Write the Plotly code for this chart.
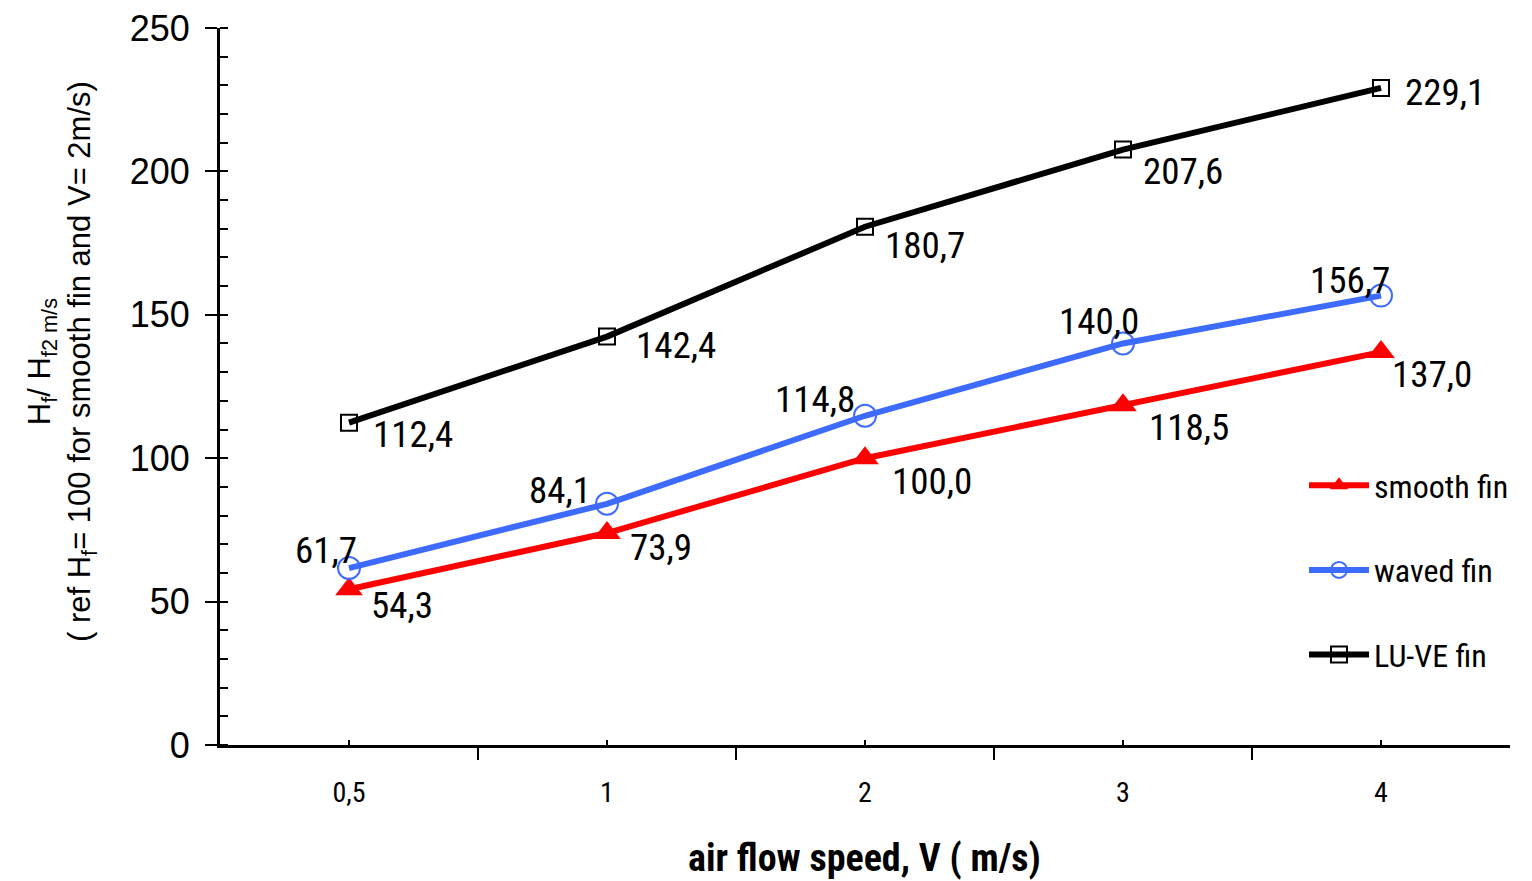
import plotly.graph_objects as go

categories = ["0,5", "1", "2", "3", "4"]
smooth_fin = [54.3, 73.9, 100.0, 118.5, 137.0]
waved_fin = [61.7, 84.1, 114.8, 140.0, 156.7]
luve_fin = [112.4, 142.4, 180.7, 207.6, 229.1]

NARROW = "Liberation Sans Narrow, Arial Narrow, Roboto Condensed, Liberation Sans, sans-serif"
REGULAR = "Liberation Sans, Arial, sans-serif"
xpos = list(range(len(categories)))

fig = go.Figure()
series = [
    ("smooth fin", smooth_fin, "#FF0000", dict(symbol="triangle-up", size=24, color="#FF0000")),
    ("waved fin", waved_fin, "#3D6BFF", dict(symbol="circle-open", size=22, color="#3D6BFF", line=dict(width=2))),
    ("LU-VE fin", luve_fin, "#000000", dict(symbol="square-open", size=16, color="#000000", line=dict(width=2))),
]
for name, vals, col, mk in series:
    fig.add_trace(go.Scatter(x=xpos, y=vals, name=name, mode="lines+markers",
                             line=dict(color=col, width=6), marker=mk,
                             legendgroup=name, cliponaxis=False))

# label offsets (style): (anchor, xshift, yshift)
offsets = {
    "smooth fin": [("left", 20, -16), ("left", 21, -14), ("left", 25, -23), ("left", 24, -22), ("left", 9, -22)],
    "waved fin": [("right", 10, 18), ("right", -14, 13), ("right", -8, 16), ("right", 18, 22), ("right", 11, 15)],
    "LU-VE fin": [("left", 22, -12), ("left", 27, -9), ("left", 18, -19), ("left", 18, -22), ("left", 22, -5)],
}
for name, vals, col, mk in series:
    for j, v in enumerate(vals):
        anc, dx, dy = offsets[name][j]
        fig.add_annotation(x=xpos[j], y=v, text=f"{v:.1f}".replace(".", ","),
                           showarrow=False, xanchor=anc, yanchor="middle",
                           xshift=dx, yshift=dy, font=dict(family=NARROW, size=37, color="black"))

fig.add_annotation(xref="paper", yref="paper", x=(62 - 220) / 1290, y=(745 - 362) / 717,
                   text="H<sub>f</sub>/ H<sub>f2 m/s</sub><br>( ref H<sub>f</sub>= 100 for smooth fin and V= 2m/s)",
                   textangle=-90, showarrow=False, xanchor="center", yanchor="middle",
                   font=dict(family=REGULAR, size=31, color="black"))
fig.add_annotation(xref="paper", yref="paper", x=(864 - 220) / 1290, y=(745 - 858) / 717,
                   text="<b>air flow speed, V ( m/s)</b>", showarrow=False,
                   xanchor="center", yanchor="middle",
                   font=dict(family=NARROW, size=38, color="black"))

fig.update_layout(
    width=1532, height=881,
    margin=dict(l=212, r=30, t=20, b=144),
    paper_bgcolor="white", plot_bgcolor="white",
    font=dict(family=NARROW, color="black"),
    showlegend=True,
    legend=dict(x=(1304 - 220) / 1290, y=(745 - 458) / 717, xanchor="left", yanchor="top",
                bgcolor="rgba(0,0,0,0)", font=dict(family=NARROW, size=32, color="black"),
                traceorder="grouped", tracegroupgap=40, itemwidth=60),
    xaxis=dict(range=[-0.5, 4.5], tickmode="array", tickvals=xpos, ticktext=categories,
               automargin=False,
               showgrid=False, zeroline=False, showline=True, linecolor="black", linewidth=3,
               ticks="inside", ticklen=5, tickwidth=2, tickcolor="black",
               ticklabelstandoff=20, tickfont=dict(family=NARROW, size=28, color="black"),
               minor=dict(tickmode="array", tickvals=[-0.5, 0.5, 1.5, 2.5, 3.5, 4.5],
                          ticks="outside", ticklen=12, tickwidth=2, tickcolor="black", showgrid=False)),
    yaxis=dict(range=[0, 250], dtick=50, showgrid=False, zeroline=False,
               automargin=False,
               showline=True, linecolor="black", linewidth=3,
               ticks="outside", ticklen=12, tickwidth=2, tickcolor="black",
               ticklabeloverflow="allow",
               tickfont=dict(family=REGULAR, size=36, color="black"), ticklabelstandoff=8,
               minor=dict(dtick=10, ticks="inside", ticklen=8, tickwidth=2, tickcolor="black", showgrid=False)),
)

fig.write_html("out.html")
